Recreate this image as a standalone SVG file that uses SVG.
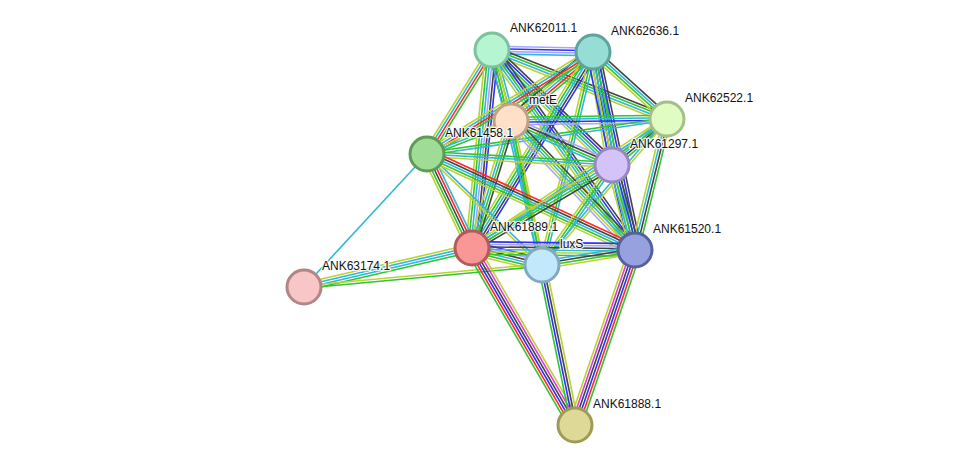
<svg xmlns="http://www.w3.org/2000/svg" width="975" height="471" viewBox="0 0 975 471">
<style>
line{stroke-width:1.4;fill:none}
.g{stroke:#33c433}.r{stroke:#ff2a2a}.b{stroke:#2f2fff}.k{stroke:#444}.m{stroke:#dd3cdd}.c{stroke:#2fb8d8}.y{stroke:#bcd232}.v{stroke:#a6a6ff}
circle{stroke-width:3}
text{font-family:"Liberation Sans",Arial,sans-serif;font-size:12px;fill:#111;paint-order:stroke;stroke:#fff;stroke-width:2.5;stroke-opacity:0.85;stroke-linejoin:round}
</style>
<rect width="975" height="471" fill="#fff"/>
<g id="edges">
<g transform="translate(492,50) rotate(1.13) scale(1,1.15)"><line class="v" x2="101" y1="-3.3" y2="-3.3"/><line class="b" x2="101" y1="-1.1" y2="-1.1"/><line class="v" x2="101" y1="1.1" y2="1.1"/><line class="c" x2="101" y1="3.3" y2="3.3"/></g>
<g transform="translate(492,50) rotate(21.52) scale(1,1.15)"><line class="k" x2="188" y1="-3.3" y2="-3.3"/><line class="g" x2="188" y1="-1.1" y2="-1.1"/><line class="c" x2="188" y1="1.1" y2="1.1"/><line class="y" x2="188" y1="3.3" y2="3.3"/></g>
<g transform="translate(492,50) rotate(75.02) scale(1,1.15)"><line class="c" x2="73.5" y1="-3.3" y2="-3.3"/><line class="g" x2="73.5" y1="-1.1" y2="-1.1"/><line class="y" x2="73.5" y1="1.1" y2="1.1"/><line class="k" x2="73.5" y1="3.3" y2="3.3"/></g>
<g transform="translate(492,50) rotate(122.0) scale(1,1.15)"><line class="g" x2="122.6" y1="-3.3" y2="-3.3"/><line class="r" x2="122.6" y1="-1.1" y2="-1.1"/><line class="c" x2="122.6" y1="1.1" y2="1.1"/><line class="y" x2="122.6" y1="3.3" y2="3.3"/></g>
<g transform="translate(492,50) rotate(43.78) scale(1,1.15)"><line class="k" x2="166" y1="-4.4" y2="-4.4"/><line class="b" x2="166" y1="-2.2" y2="-2.2"/><line class="g" x2="166" y1="0" y2="0"/><line class="c" x2="166" y1="2.2" y2="2.2"/><line class="y" x2="166" y1="4.4" y2="4.4"/></g>
<g transform="translate(492,50) rotate(95.77) scale(1,1.15)"><line class="b" x2="199" y1="-5.5" y2="-5.5"/><line class="k" x2="199" y1="-3.3" y2="-3.3"/><line class="v" x2="199" y1="-1.1" y2="-1.1"/><line class="c" x2="199" y1="1.1" y2="1.1"/><line class="g" x2="199" y1="3.3" y2="3.3"/><line class="y" x2="199" y1="5.5" y2="5.5"/></g>
<g transform="translate(492,50) rotate(76.91) scale(1,1.15)"><line class="y" x2="220.7" y1="-2.2" y2="-2.2"/><line class="g" x2="220.7" y1="0" y2="0"/><line class="c" x2="220.7" y1="2.2" y2="2.2"/></g>
<g transform="translate(492,50) rotate(54.43) scale(1,1.15)"><line class="k" x2="246" y1="-4.4" y2="-4.4"/><line class="b" x2="246" y1="-2.2" y2="-2.2"/><line class="g" x2="246" y1="0" y2="0"/><line class="c" x2="246" y1="2.2" y2="2.2"/><line class="y" x2="246" y1="4.4" y2="4.4"/></g>
<g transform="translate(593,52) rotate(42.16) scale(1,1.15)"><line class="k" x2="99.8" y1="-3.3" y2="-3.3"/><line class="c" x2="99.8" y1="-1.1" y2="-1.1"/><line class="g" x2="99.8" y1="1.1" y2="1.1"/><line class="y" x2="99.8" y1="3.3" y2="3.3"/></g>
<g transform="translate(593,52) rotate(139.92) scale(1,1.15)"><line class="g" x2="107" y1="-4.4" y2="-4.4"/><line class="r" x2="107" y1="-2.2" y2="-2.2"/><line class="c" x2="107" y1="0" y2="0"/><line class="y" x2="107" y1="2.2" y2="2.2"/><line class="k" x2="107" y1="4.4" y2="4.4"/></g>
<g transform="translate(593,52) rotate(148.43) scale(1,1.15)"><line class="g" x2="194.8" y1="-3.3" y2="-3.3"/><line class="r" x2="194.8" y1="-1.1" y2="-1.1"/><line class="c" x2="194.8" y1="1.1" y2="1.1"/><line class="y" x2="194.8" y1="3.3" y2="3.3"/></g>
<g transform="translate(593,52) rotate(80.46) scale(1,1.15)"><line class="g" x2="114.6" y1="-4.4" y2="-4.4"/><line class="b" x2="114.6" y1="-2.2" y2="-2.2"/><line class="k" x2="114.6" y1="0" y2="0"/><line class="c" x2="114.6" y1="2.2" y2="2.2"/><line class="y" x2="114.6" y1="4.4" y2="4.4"/></g>
<g transform="translate(593,52) rotate(121.69) scale(1,1.15)"><line class="b" x2="230.3" y1="-4.4" y2="-4.4"/><line class="k" x2="230.3" y1="-2.2" y2="-2.2"/><line class="c" x2="230.3" y1="0" y2="0"/><line class="g" x2="230.3" y1="2.2" y2="2.2"/><line class="y" x2="230.3" y1="4.4" y2="4.4"/></g>
<g transform="translate(593,52) rotate(103.46) scale(1,1.15)"><line class="c" x2="219" y1="-2.2" y2="-2.2"/><line class="g" x2="219" y1="0" y2="0"/><line class="y" x2="219" y1="2.2" y2="2.2"/></g>
<g transform="translate(593,52) rotate(78.02) scale(1,1.15)"><line class="k" x2="202.4" y1="-5.5" y2="-5.5"/><line class="b" x2="202.4" y1="-3.3" y2="-3.3"/><line class="g" x2="202.4" y1="-1.1" y2="-1.1"/><line class="c" x2="202.4" y1="1.1" y2="1.1"/><line class="y" x2="202.4" y1="3.3" y2="3.3"/><line class="b" x2="202.4" y1="5.5" y2="5.5"/></g>
<g transform="translate(667,119) rotate(179.27) scale(1,1.15)"><line class="v" x2="156" y1="-3.3" y2="-3.3"/><line class="b" x2="156" y1="-1.1" y2="-1.1"/><line class="c" x2="156" y1="1.1" y2="1.1"/><line class="g" x2="156" y1="3.3" y2="3.3"/></g>
<g transform="translate(667,119) rotate(171.70) scale(1,1.15)"><line class="c" x2="242.5" y1="-1.1" y2="-1.1"/><line class="g" x2="242.5" y1="1.1" y2="1.1"/></g>
<g transform="translate(667,119) rotate(140.09) scale(1,1.15)"><line class="g" x2="71.7" y1="-3.3" y2="-3.3"/><line class="k" x2="71.7" y1="-1.1" y2="-1.1"/><line class="c" x2="71.7" y1="1.1" y2="1.1"/><line class="y" x2="71.7" y1="3.3" y2="3.3"/></g>
<g transform="translate(667,119) rotate(146.51) scale(1,1.15)"><line class="g" x2="233.8" y1="-2.2" y2="-2.2"/><line class="c" x2="233.8" y1="0" y2="0"/><line class="y" x2="233.8" y1="2.2" y2="2.2"/></g>
<g transform="translate(667,119) rotate(130.57) scale(1,1.15)"><line class="y" x2="192.2" y1="-1.1" y2="-1.1"/><line class="c" x2="192.2" y1="1.1" y2="1.1"/></g>
<g transform="translate(667,119) rotate(103.73) scale(1,1.15)"><line class="g" x2="134.9" y1="-3.3" y2="-3.3"/><line class="k" x2="134.9" y1="-1.1" y2="-1.1"/><line class="c" x2="134.9" y1="1.1" y2="1.1"/><line class="y" x2="134.9" y1="3.3" y2="3.3"/></g>
<g transform="translate(511,121) rotate(158.55) scale(1,1.15)"><line class="g" x2="90.2" y1="-2.2" y2="-2.2"/><line class="c" x2="90.2" y1="0" y2="0"/><line class="y" x2="90.2" y1="2.2" y2="2.2"/></g>
<g transform="translate(511,121) rotate(23.54) scale(1,1.15)"><line class="v" x2="110.2" y1="-3.3" y2="-3.3"/><line class="k" x2="110.2" y1="-1.1" y2="-1.1"/><line class="g" x2="110.2" y1="1.1" y2="1.1"/><line class="c" x2="110.2" y1="3.3" y2="3.3"/></g>
<g transform="translate(511,121) rotate(107.07) scale(1,1.15)"><line class="k" x2="132.9" y1="-3.3" y2="-3.3"/><line class="g" x2="132.9" y1="-1.1" y2="-1.1"/><line class="c" x2="132.9" y1="1.1" y2="1.1"/><line class="y" x2="132.9" y1="3.3" y2="3.3"/></g>
<g transform="translate(511,121) rotate(77.85) scale(1,1.15)"><line class="y" x2="147.3" y1="-2.2" y2="-2.2"/><line class="g" x2="147.3" y1="0" y2="0"/><line class="c" x2="147.3" y1="2.2" y2="2.2"/></g>
<g transform="translate(511,121) rotate(46.13) scale(1,1.15)"><line class="k" x2="178.9" y1="-4.4" y2="-4.4"/><line class="g" x2="178.9" y1="-2.2" y2="-2.2"/><line class="c" x2="178.9" y1="0" y2="0"/><line class="y" x2="178.9" y1="2.2" y2="2.2"/><line class="v" x2="178.9" y1="4.4" y2="4.4"/></g>
<g transform="translate(427,154) rotate(3.40) scale(1,1.15)"><line class="g" x2="185.3" y1="-2.2" y2="-2.2"/><line class="c" x2="185.3" y1="0" y2="0"/><line class="y" x2="185.3" y1="2.2" y2="2.2"/></g>
<g transform="translate(427,154) rotate(64.42) scale(1,1.15)"><line class="c" x2="104.2" y1="-4.4" y2="-4.4"/><line class="r" x2="104.2" y1="-2.2" y2="-2.2"/><line class="k" x2="104.2" y1="0" y2="0"/><line class="g" x2="104.2" y1="2.2" y2="2.2"/><line class="y" x2="104.2" y1="4.4" y2="4.4"/></g>
<g transform="translate(427,154) rotate(43.99) scale(1,1.15)"><line class="c" x2="159.8" y1="-1.1" y2="-1.1"/><line class="y" x2="159.8" y1="1.1" y2="1.1"/></g>
<g transform="translate(427,154) rotate(24.78) scale(1,1.15)"><line class="r" x2="229.1" y1="-4.4" y2="-4.4"/><line class="k" x2="229.1" y1="-2.2" y2="-2.2"/><line class="c" x2="229.1" y1="0" y2="0"/><line class="g" x2="229.1" y1="2.2" y2="2.2"/><line class="y" x2="229.1" y1="4.4" y2="4.4"/></g>
<g transform="translate(612,165) rotate(149.34) scale(1,1.15)"><line class="k" x2="162.8" y1="-3.3" y2="-3.3"/><line class="g" x2="162.8" y1="-1.1" y2="-1.1"/><line class="c" x2="162.8" y1="1.1" y2="1.1"/><line class="y" x2="162.8" y1="3.3" y2="3.3"/></g>
<g transform="translate(612,165) rotate(124.99) scale(1,1.15)"><line class="c" x2="122.1" y1="-2.2" y2="-2.2"/><line class="g" x2="122.1" y1="0" y2="0"/><line class="y" x2="122.1" y1="2.2" y2="2.2"/></g>
<g transform="translate(612,165) rotate(74.86) scale(1,1.15)"><line class="k" x2="88.1" y1="-4.4" y2="-4.4"/><line class="b" x2="88.1" y1="-2.2" y2="-2.2"/><line class="g" x2="88.1" y1="0" y2="0"/><line class="c" x2="88.1" y1="2.2" y2="2.2"/><line class="y" x2="88.1" y1="4.4" y2="4.4"/></g>
<g transform="translate(472,248) rotate(13.65) scale(1,1.15)"><line class="b" x2="72" y1="-5.5" y2="-5.5"/><line class="v" x2="72" y1="-3.3" y2="-3.3"/><line class="k" x2="72" y1="-1.1" y2="-1.1"/><line class="c" x2="72" y1="1.1" y2="1.1"/><line class="g" x2="72" y1="3.3" y2="3.3"/><line class="y" x2="72" y1="5.5" y2="5.5"/></g>
<g transform="translate(472,248) rotate(0.70) scale(1,1.15)"><line class="b" x2="163" y1="-5.5" y2="-5.5"/><line class="v" x2="163" y1="-3.3" y2="-3.3"/><line class="k" x2="163" y1="-1.1" y2="-1.1"/><line class="c" x2="163" y1="1.1" y2="1.1"/><line class="y" x2="163" y1="3.3" y2="3.3"/><line class="g" x2="163" y1="5.5" y2="5.5"/></g>
<g transform="translate(542,265) rotate(-9.16) scale(1,1.15)"><line class="c" x2="94.2" y1="-3.3" y2="-3.3"/><line class="k" x2="94.2" y1="-1.1" y2="-1.1"/><line class="g" x2="94.2" y1="1.1" y2="1.1"/><line class="y" x2="94.2" y1="3.3" y2="3.3"/></g>
<g transform="translate(304,287) rotate(-47.24) scale(1,1.15)"><line class="c" x2="181.2"/></g>
<g transform="translate(304,287) rotate(-13.07) scale(1,1.15)"><line class="y" x2="172.5" y1="-3.3" y2="-3.3"/><line class="c" x2="172.5" y1="-1.1" y2="-1.1"/><line class="c" x2="172.5" y1="1.1" y2="1.1"/><line class="g" x2="172.5" y1="3.3" y2="3.3"/></g>
<g transform="translate(304,287) rotate(-5.28) scale(1,1.15)"><line class="y" x2="239" y1="-1.1" y2="-1.1"/><line class="g" x2="239" y1="1.1" y2="1.1"/></g>
<g transform="translate(472,248) rotate(59.81) scale(1,1.15)"><line class="y" x2="204.8" y1="-5.5" y2="-5.5"/><line class="m" x2="204.8" y1="-3.3" y2="-3.3"/><line class="k" x2="204.8" y1="-1.1" y2="-1.1"/><line class="b" x2="204.8" y1="1.1" y2="1.1"/><line class="r" x2="204.8" y1="3.3" y2="3.3"/><line class="g" x2="204.8" y1="5.5" y2="5.5"/></g>
<g transform="translate(542,265) rotate(78.35) scale(1,1.15)"><line class="y" x2="163.4" y1="-3.3" y2="-3.3"/><line class="k" x2="163.4" y1="-1.1" y2="-1.1"/><line class="b" x2="163.4" y1="1.1" y2="1.1"/><line class="g" x2="163.4" y1="3.3" y2="3.3"/></g>
<g transform="translate(635,250) rotate(108.92) scale(1,1.15)"><line class="g" x2="185" y1="-5.5" y2="-5.5"/><line class="r" x2="185" y1="-3.3" y2="-3.3"/><line class="b" x2="185" y1="-1.1" y2="-1.1"/><line class="k" x2="185" y1="1.1" y2="1.1"/><line class="m" x2="185" y1="3.3" y2="3.3"/><line class="y" x2="185" y1="5.5" y2="5.5"/></g>
</g>
<g id="ANK62011.1"><circle cx="492" cy="50" r="17" fill="#b5f5d2" stroke="#7dc29c"/><text x="510" y="32">ANK62011.1</text></g>
<g id="ANK62636.1"><circle cx="593" cy="52" r="17" fill="#96ddd5" stroke="#5ea49c"/><text x="611" y="35">ANK62636.1</text></g>
<g id="ANK62522.1"><circle cx="667" cy="119" r="17" fill="#e0fcc2" stroke="#a4bf8a"/><text x="685" y="102">ANK62522.1</text></g>
<g id="metE"><circle cx="511" cy="121" r="17" fill="#fde0c6" stroke="#c1a084"/><text x="529" y="104">metE</text></g>
<g id="ANK61458.1"><circle cx="427" cy="154" r="17" fill="#9fdc95" stroke="#5e9b57"/><text x="445" y="137">ANK61458.1</text></g>
<g id="ANK61297.1"><circle cx="612" cy="165" r="17" fill="#d3c3f8" stroke="#9a86c1"/><text x="630" y="148">ANK61297.1</text></g>
<g id="ANK61889.1"><circle cx="472" cy="248" r="17" fill="#f99696" stroke="#b45a5a"/><text x="490" y="231">ANK61889.1</text></g>
<g id="luxS"><circle cx="542" cy="265" r="17" fill="#c2e8fb" stroke="#82a9c1"/><text x="560" y="248">luxS</text></g>
<g id="ANK61520.1"><circle cx="635" cy="250" r="17" fill="#97a1e0" stroke="#55609e"/><text x="653" y="233">ANK61520.1</text></g>
<g id="ANK63174.1"><circle cx="304" cy="287" r="17" fill="#f8c6c6" stroke="#b48585"/><text x="322" y="270">ANK63174.1</text></g>
<g id="ANK61888.1"><circle cx="575" cy="425" r="17" fill="#dfd998" stroke="#a09a59"/><text x="593" y="408">ANK61888.1</text></g>
</svg>
